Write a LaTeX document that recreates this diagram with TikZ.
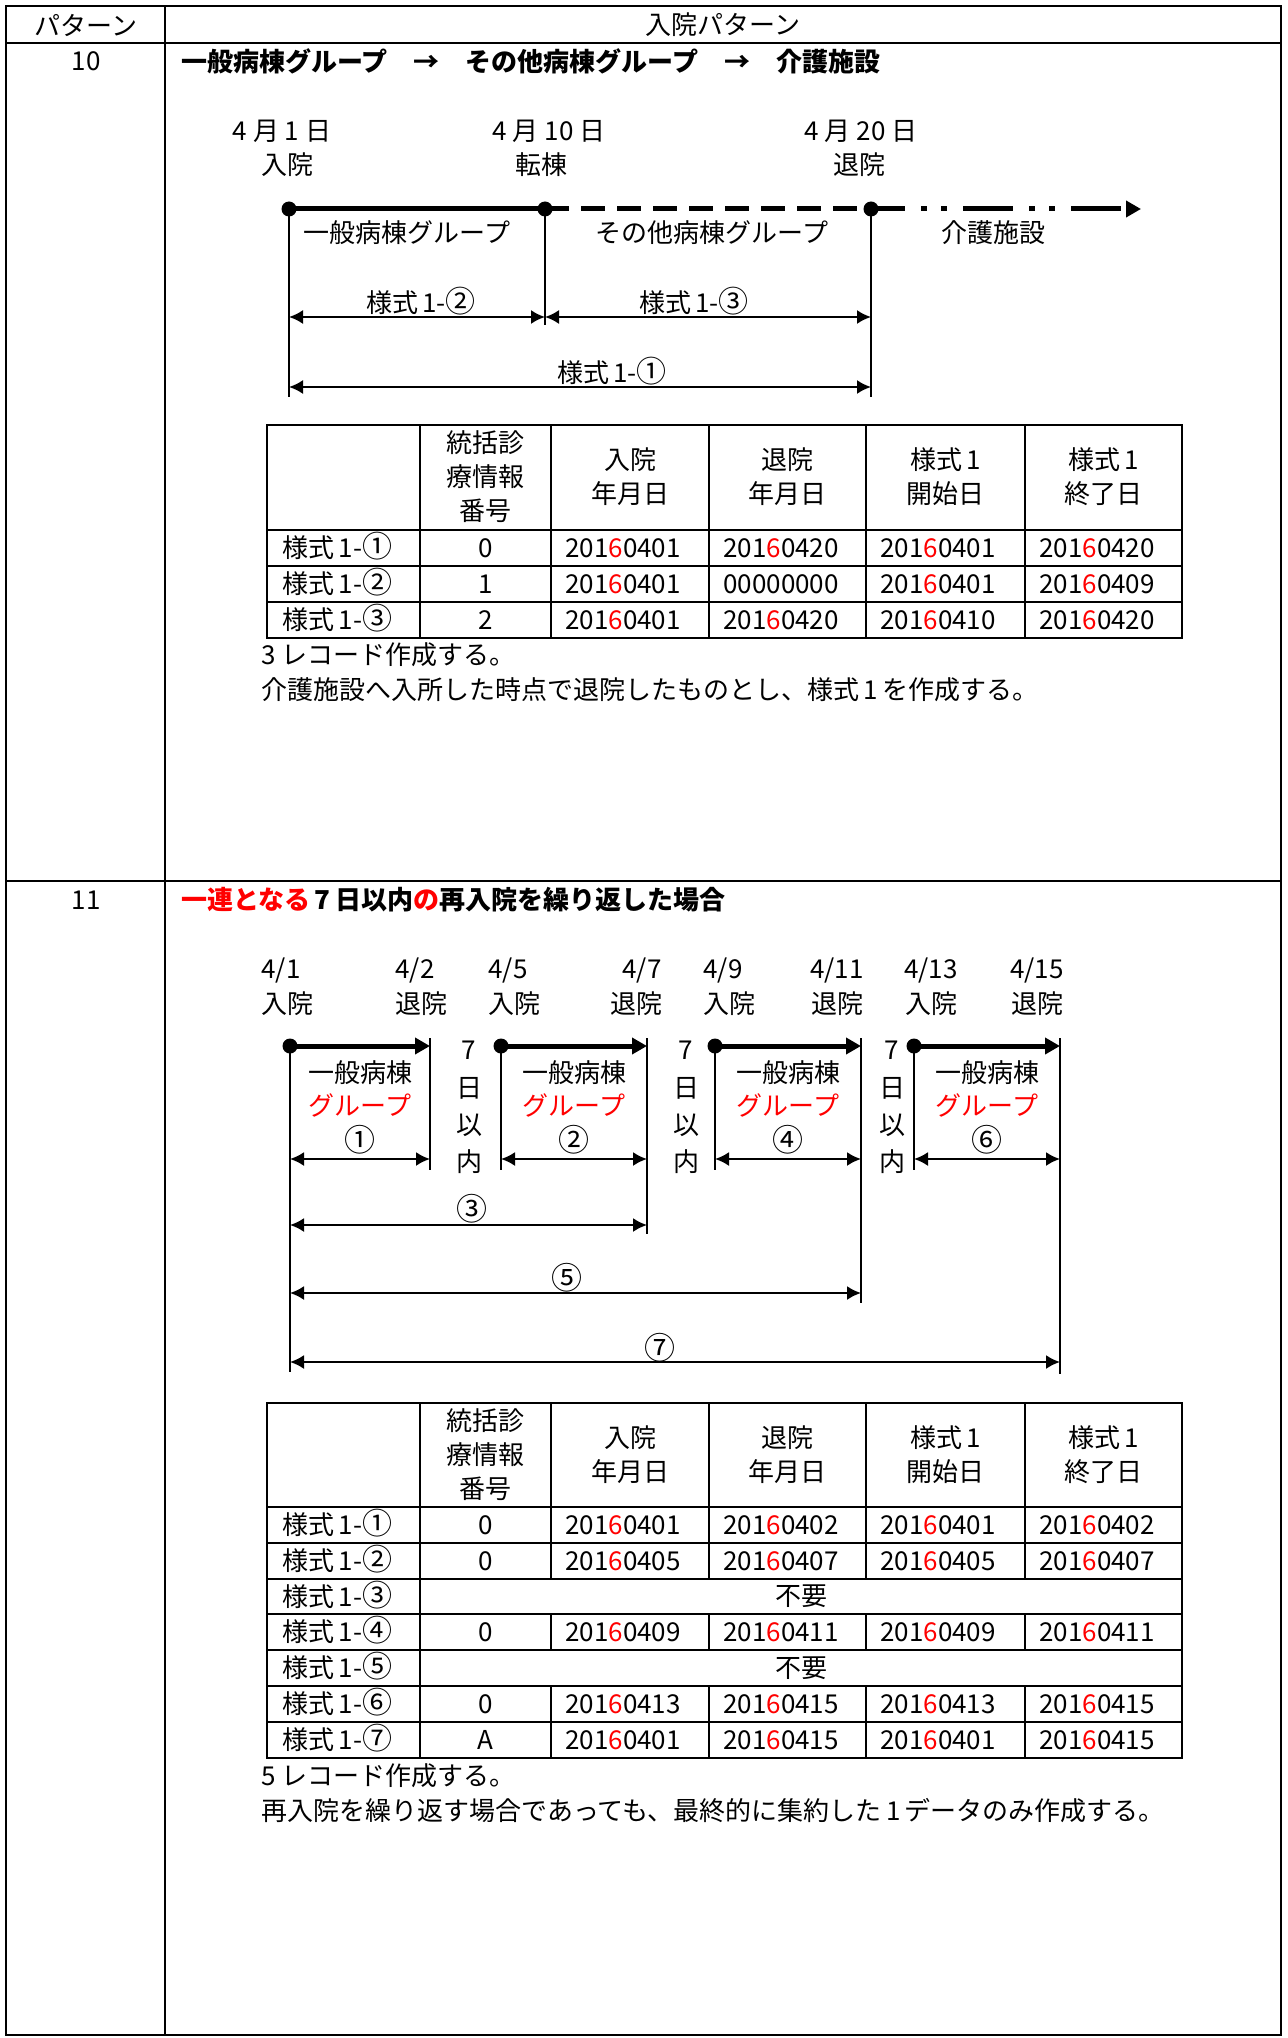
\documentclass[tikz,border=0pt]{standalone}
\usepackage{fontspec}
\setmainfont{Noto Sans CJK JP}
\usetikzlibrary{arrows.meta}
\newcommand\dd[1]{201\textcolor{red}{6}#1}
\newcommand\cnum[1]{\smash{\raisebox{0pt}{\fontsize{15}{17}\selectfont #1}}}
\newcommand\cnb[1]{{\fontsize{15.5}{17}\selectfont #1}}
\newcommand\tabrow[8]{%
  \node[tl] (#1a) at (282,#2) {#3};
  \node[tx] (#1b) at (485.5,#2) {#4};
  \node[tl] (#1c) at (565,#2) {#5};
  \node[tl] (#1d) at (723,#2) {#6};
  \node[tl] (#1e) at (880,#2) {#7};
  \node[tl] (#1f) at (1039,#2) {#8};}
\newcommand\tabhead[2]{%
  \node[tx] (#1h2) at (485.5,#2) {統括診\\療情報\\番号};
  \node[tx] (#1h3) at (630,#2) {入院\\年月日};
  \node[tx] (#1h4) at (787.5,#2) {退院\\年月日};
  \node[tx] (#1h5) at (945.5,#2) {様式\,1\\開始日};
  \node[tx] (#1h6) at (1103.5,#2) {様式\,1\\終了日};}
\begin{document}
\begin{tikzpicture}[x=0.5pt,y=-0.5pt,
  tx/.style={inner sep=0pt,font=\fontsize{13}{17}\selectfont,align=center},
  tl/.style={tx,anchor=west},
  ttl/.style={tx,anchor=west,font=\fontsize{13}{17}\selectfont\bfseries},
  frame/.style={line width=0.75pt},
  grid/.style={line width=1.1pt},
  thinl/.style={line width=0.7pt},
  dim/.style={line width=1pt,{Latex[length=7pt,width=7pt]}-{Latex[length=7pt,width=7pt]}},
  tline/.style={line width=2.5pt},
  tarrow/.style={tline,-{Triangle[length=7.5pt,width=8pt]}},
  dot/.style={circle,fill,inner sep=0pt,minimum size=7.5pt}]
\fill[white] (0,0) rectangle (1287,2038);
\useasboundingbox (0,0) rectangle (1287,2038);
% frame
\draw[frame] (6,6) rectangle (1281,2035);
\draw[frame] (165,6) -- (165,2035);
\draw[frame] (6,43) -- (1281,43);
\draw[frame] (6,881) -- (1281,881);
\node[tx] (hpat) at (86,25) {パターン};
\node[tx] (hnyu) at (723,25) {入院パターン};
\node[tx] (n10) at (86,61) {10};
\node[tx] (n11) at (86,900) {11};
% ---------- pattern 10 ----------
\node[ttl] (title10) at (181,61) {一般病棟グループ\quad →\quad その他病棟グループ\quad →\quad 介護施設};
\node[tx] (da1) at (282,131) {4 月 1 日};
\node[tx] (db1) at (287,165) {入院};
\node[tx] (da2) at (549,131) {4 月 10 日};
\node[tx] (db2) at (541,165) {転棟};
\node[tx] (da3) at (861,131) {4 月 20 日};
\node[tx] (db3) at (859,165) {退院};
\coordinate (p1) at (289,209);
\coordinate (p2) at (545,209);
\coordinate (p3) at (871,209);
\coordinate (p4) at (1141,209);
\coordinate (p1b) at (289,397);
\coordinate (p2b) at (545,325);
\coordinate (p3b) at (871,397);
\draw[thinl] (p1) -- (p1b);
\draw[thinl] (p2) -- (p2b);
\draw[thinl] (p3) -- (p3b);
\draw[tline] (p1) -- (p2);
\draw[tline,dash pattern=on 12pt off 6pt] (p2) -- (p3);
\draw[tarrow,dash pattern=on 25pt off 8pt on 3pt off 7pt on 3pt off 8pt,dash phase=8pt] (p3) -- (p4);
\node[dot] (dot1) at (p1) {};
\node[dot] (dot2) at (p2) {};
\node[dot] (dot3) at (p3) {};
\node[tx] (g1) at (407,233) {一般病棟グループ};
\node[tx] (g2) at (712,233) {その他病棟グループ};
\node[tx] (g3) at (993,233) {介護施設};
\coordinate (m1a) at (289,317);
\coordinate (m1b) at (545,317);
\coordinate (m1c) at (871,317);
\coordinate (m2a) at (289,387);
\coordinate (m2b) at (871,387);
\draw[dim] (m1a) -- (m1b);
\draw[dim] (m1b) -- (m1c);
\draw[dim] (m2a) -- (m2b);
\node[tx] (l2) at (421,303) {様式\,1-\cnum{②}};
\node[tx] (l3) at (694,303) {様式\,1-\cnum{③}};
\node[tx] (l1) at (612,373) {様式\,1-\cnum{①}};
% table 10
\draw[grid] (267,425) rectangle (1182,638);
\foreach \y in {530,566,602} \draw[grid] (267,\y) -- (1182,\y);
\foreach \x in {420,551,709,866,1025} \draw[grid] (\x,425) -- (\x,638);
\tabhead{ta}{477}
\tabrow{tar1}{548}{様式\,1-\cnum{①}}{0}{\dd{0401}}{\dd{0420}}{\dd{0401}}{\dd{0420}}
\tabrow{tar2}{584}{様式\,1-\cnum{②}}{1}{\dd{0401}}{00000000}{\dd{0401}}{\dd{0409}}
\tabrow{tar3}{620}{様式\,1-\cnum{③}}{2}{\dd{0401}}{\dd{0420}}{\dd{0410}}{\dd{0420}}
\node[tl] (c10a) at (261,655) {3 レコード作成する。};
\node[tl] (c10b) at (261,690) {介護施設へ入所した時点で退院したものとし、様式\,1\,を作成する。};
% ---------- pattern 11 ----------
\node[ttl] (title11) at (181,900) {\textcolor{red}{一連となる}\,7\,日以内\textcolor{red}{の}再入院を繰り返した場合};
\node[tx] (ea1) at (281,970) {4/1};
\node[tx] (eb1) at (287,1004) {入院};
\node[tx] (ea2) at (415,970) {4/2};
\node[tx] (eb2) at (421,1004) {退院};
\node[tx] (ea3) at (508,970) {4/5};
\node[tx] (eb3) at (514,1004) {入院};
\node[tx] (ea4) at (642,970) {4/7};
\node[tx] (eb4) at (636,1004) {退院};
\node[tx] (ea5) at (723,970) {4/9};
\node[tx] (eb5) at (729,1004) {入院};
\node[tx] (ea6) at (837,970) {4/11};
\node[tx] (eb6) at (837,1004) {退院};
\node[tx] (ea7) at (931,970) {4/13};
\node[tx] (eb7) at (931,1004) {入院};
\node[tx] (ea8) at (1037,970) {4/15};
\node[tx] (eb8) at (1037,1004) {退院};
% segments
\foreach \i/\a/\b in {1/290/430,2/501/647,3/715/861,4/914/1060}{
  \coordinate (s\i a) at (\a,1046);
  \coordinate (s\i b) at (\b,1046);
  \coordinate (s\i t) at (\b,1038);
  \coordinate (s\i l) at (\a,1159);
  \coordinate (s\i r) at (\b,1159);
}
\coordinate (s1ad) at (290,1372);
\coordinate (s2ad) at (501,1170);
\coordinate (s3ad) at (715,1170);
\coordinate (s4ad) at (914,1170);
\coordinate (s1bd) at (430,1170);
\coordinate (s2bd) at (647,1234);
\coordinate (s3bd) at (861,1303);
\coordinate (s4bd) at (1060,1374);
\foreach \i in {1,2,3,4}{
  \draw[thinl] (s\i a) -- (s\i ad);
  \draw[thinl] (s\i t) -- (s\i bd);
  \draw[tarrow] (s\i a) -- (s\i b);
  \node[dot] (sd\i) at (s\i a) {};
  \draw[dim] (s\i l) -- (s\i r);
}
\foreach \i/\c in {1/360,2/574,3/788,4/987}{
  \node[tx] (sg\i) at (\c,1073) {一般病棟};
  \node[tx,text=red] (sr\i) at (\c,1105) {グループ};
}
\node[tx] (sn1) at (360,1140) {\cnb{①}};
\node[tx] (sn2) at (574,1140) {\cnb{②}};
\node[tx] (sn3) at (788,1140) {\cnb{④}};
\node[tx] (sn4) at (987,1140) {\cnb{⑥}};
\foreach \i/\x in {1/469,2/686,3/892}{
  \node[tx] (w\i a) at (\x,1050) {7};
  \node[tx] (w\i b) at (\x,1088) {日};
  \node[tx] (w\i c) at (\x,1125) {以};
  \node[tx] (w\i d) at (\x,1162) {内};
}
\coordinate (r3a) at (290,1225);
\coordinate (r3b) at (647,1225);
\coordinate (r5a) at (290,1293);
\coordinate (r5b) at (861,1293);
\coordinate (r7a) at (290,1362);
\coordinate (r7b) at (1060,1362);
\draw[dim] (r3a) -- (r3b);
\draw[dim] (r5a) -- (r5b);
\draw[dim] (r7a) -- (r7b);
\node[tx] (rl3) at (472,1209) {\cnb{③}};
\node[tx] (rl5) at (567,1278) {\cnb{⑤}};
\node[tx] (rl7) at (660,1348) {\cnb{⑦}};
% table 11
\draw[grid] (267,1403) rectangle (1182,1758);
\foreach \y in {1507,1543,1579,1614,1650,1686,1722} \draw[grid] (267,\y) -- (1182,\y);
\draw[grid] (420,1403) -- (420,1758);
\foreach \x in {551,709,866,1025}{
  \draw[grid] (\x,1403) -- (\x,1579);
  \draw[grid] (\x,1614) -- (\x,1650);
  \draw[grid] (\x,1686) -- (\x,1758);
}
\tabhead{tb}{1455}
\tabrow{tbr1}{1525}{様式\,1-\cnum{①}}{0}{\dd{0401}}{\dd{0402}}{\dd{0401}}{\dd{0402}}
\tabrow{tbr2}{1561}{様式\,1-\cnum{②}}{0}{\dd{0405}}{\dd{0407}}{\dd{0405}}{\dd{0407}}
\node[tl] (tbr3a) at (282,1596.5) {様式\,1-\cnum{③}};
\node[tx] (tbr3b) at (801,1596.5) {不要};
\tabrow{tbr4}{1632}{様式\,1-\cnum{④}}{0}{\dd{0409}}{\dd{0411}}{\dd{0409}}{\dd{0411}}
\node[tl] (tbr5a) at (282,1668) {様式\,1-\cnum{⑤}};
\node[tx] (tbr5b) at (801,1668) {不要};
\tabrow{tbr6}{1704}{様式\,1-\cnum{⑥}}{0}{\dd{0413}}{\dd{0415}}{\dd{0413}}{\dd{0415}}
\tabrow{tbr7}{1740}{様式\,1-\cnum{⑦}}{A}{\dd{0401}}{\dd{0415}}{\dd{0401}}{\dd{0415}}
\node[tl] (c11a) at (261,1776) {5 レコード作成する。};
\node[tl] (c11b) at (261,1811) {再入院を繰り返す場合であっても、最終的に集約した\,1\,データのみ作成する。};
\end{tikzpicture}
\end{document}
